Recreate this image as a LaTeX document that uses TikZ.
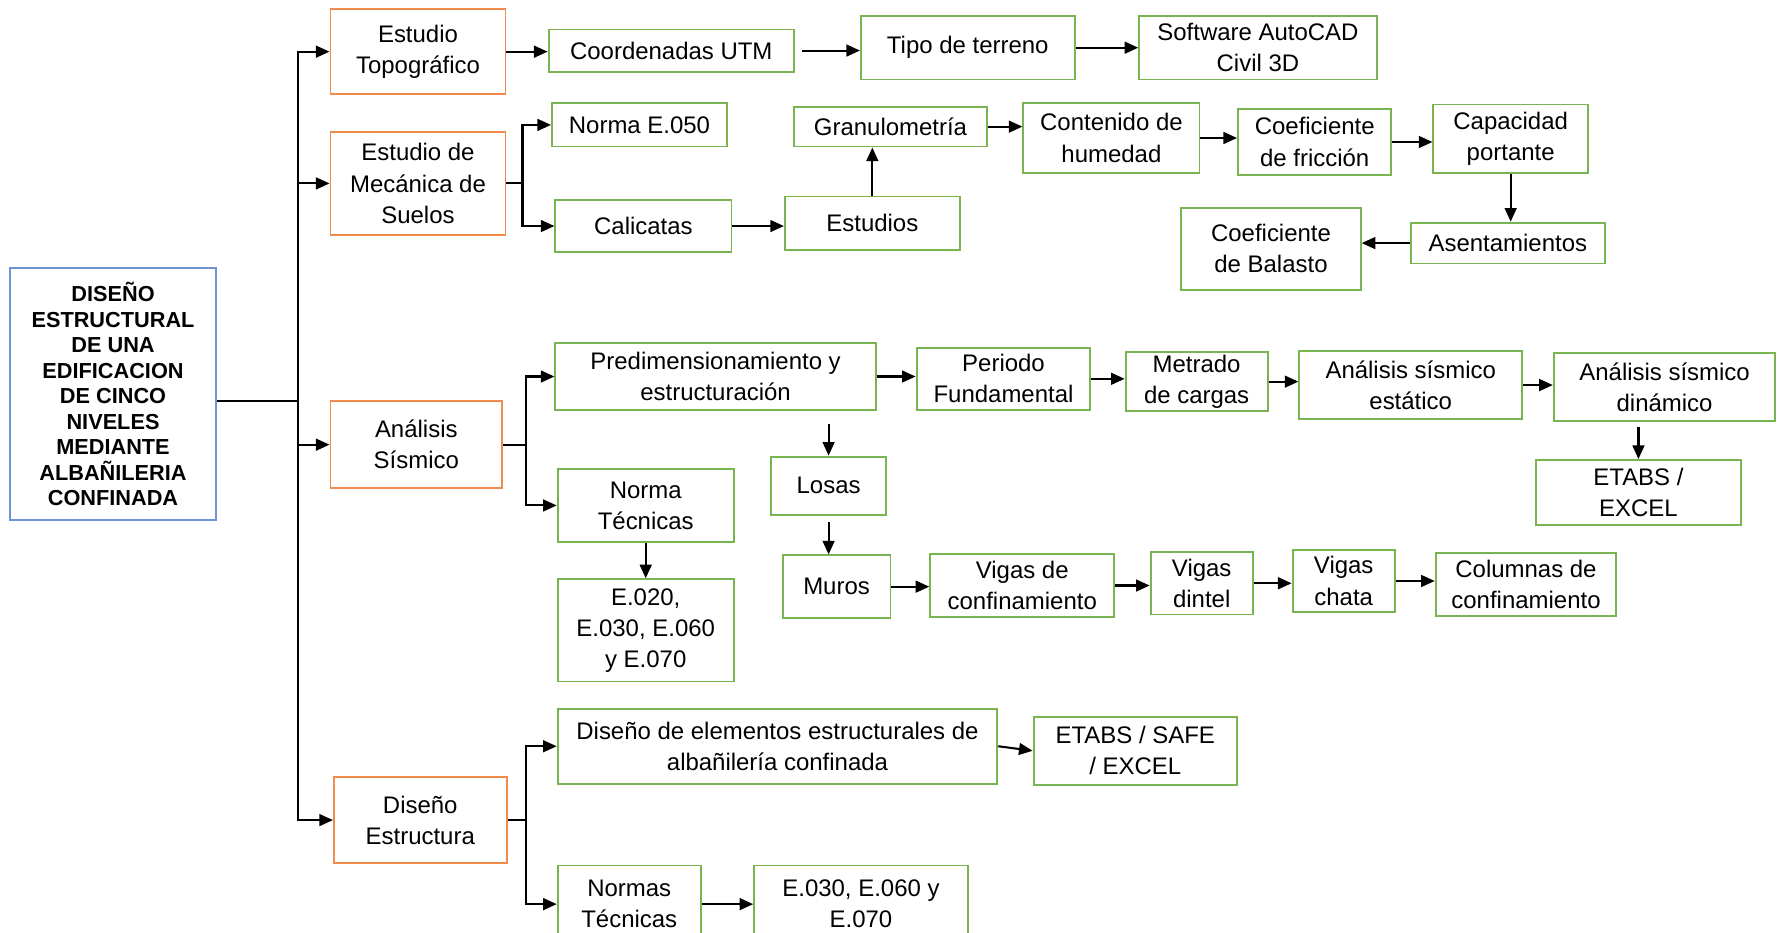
\documentclass[tikz,border=0pt]{standalone}
\usepackage{fontspec}
\setmainfont{Liberation Sans}
\usetikzlibrary{arrows.meta}
\definecolor{naranja}{RGB}{240,140,75}
\definecolor{verde}{RGB}{120,180,80}
\definecolor{azul}{RGB}{110,145,215}
\begin{document}
\begin{tikzpicture}[x=0.025cm,y=-0.025cm,
		caja/.style={draw=verde,line width=1.2pt,fill=white,align=center,inner sep=1pt,font=\fontsize{15}{19.5}\selectfont},
		tema/.style={caja,draw=naranja},
		linea/.style={line width=1.3pt},
		flecha/.style={linea,-{Triangle[length=0.3cm,width=0.26cm]}}]
			\useasboundingbox (0,0) rectangle (1568,821);
			\clip (0,0) rectangle (1568,821);
			\node[caja,draw=azul,minimum width=4.525cm,minimum height=5.55cm,font=\bfseries\fontsize{13.6}{16}\selectfont] (main) at (99.5,347) {DISEÑO\\ESTRUCTURAL\\DE UNA\\EDIFICACION\\DE CINCO\\NIVELES\\MEDIANTE\\ALBAÑILERIA\\CONFINADA};
			\node[tema,minimum width=3.85cm,minimum height=1.875cm] (topo) at (368,45.5) {Estudio\\Topográfico};
			\node[tema,minimum width=3.85cm,minimum height=2.275cm] (mec) at (368,161.5) {Estudio de\\Mecánica de\\Suelos};
			\node[tema,minimum width=3.775cm,minimum height=1.925cm] (ana) at (366.5,391.5) {Análisis\\Sísmico};
			\node[tema,minimum width=3.8cm,minimum height=1.9cm] (dis) at (370,722) {Diseño\\Estructura};
			\node[caja,minimum width=5.4cm,minimum height=0.925cm] (utm) at (591,44.5) {Coordenadas UTM};
			\node[caja,minimum width=4.7cm,minimum height=1.4cm] (terreno) at (852,42) {Tipo de terreno};
			\node[caja,minimum width=5.225cm,minimum height=1.4cm] (autocad) at (1107.5,42) {Software AutoCAD\\Civil 3D};
			\node[caja,minimum width=3.85cm,minimum height=0.95cm] (n050) at (563,110) {Norma E.050};
			\node[caja,minimum width=3.875cm,minimum height=1.15cm] (calicatas) at (566.5,199) {Calicatas};
			\node[caja,minimum width=3.85cm,minimum height=1.175cm] (estudios) at (768,196.5) {Estudios};
			\node[caja,minimum width=4.25cm,minimum height=0.875cm] (granulo) at (784,111.5) {Granulometría};
			\node[caja,minimum width=3.875cm,minimum height=1.525cm] (humedad) at (978.5,121.5) {Contenido de\\humedad};
			\node[caja,minimum width=3.375cm,minimum height=1.45cm] (friccion) at (1157.5,125) {Coeficiente\\de fricción};
			\node[caja,minimum width=3.4cm,minimum height=1.5cm] (portante) at (1330,122) {Capacidad\\portante};
			\node[caja,minimum width=4.275cm,minimum height=0.9cm] (asent) at (1327.5,214) {Asentamientos};
			\node[caja,minimum width=3.95cm,minimum height=1.8cm] (balasto) at (1119,219) {Coeficiente\\de Balasto};
			\node[caja,minimum width=7.05cm,minimum height=1.475cm] (predim) at (630,331.5) {Predimensionamiento y\\estructuración};
			\node[caja,minimum width=3.875cm,minimum height=1.6cm] (normatec) at (568.5,445) {Norma\\Técnicas};
			\node[caja,minimum width=3.825cm,minimum height=1.375cm] (periodo) at (883.5,333.5) {Periodo\\Fundamental};
			\node[caja,minimum width=3.125cm,minimum height=1.3cm] (metrado) at (1053.5,336) {Metrado\\de cargas};
			\node[caja,minimum width=4.9cm,minimum height=1.5cm] (estatico) at (1242,339) {Análisis sísmico\\estático};
			\node[caja,minimum width=4.875cm,minimum height=1.5cm] (dinamico) at (1465.5,341) {Análisis sísmico\\dinámico};
			\node[caja,minimum width=4.525cm,minimum height=1.425cm] (etabs) at (1442.5,433.5) {ETABS /\\EXCEL};
			\node[caja,minimum width=2.525cm,minimum height=1.275cm] (losas) at (729.5,427.5) {Losas};
			\node[caja,minimum width=2.375cm,minimum height=1.375cm] (muros) at (736.5,516.5) {Muros};
			\node[caja,minimum width=3.875cm,minimum height=2.25cm] (normas) at (568.5,555) {E.020,\\E.030, E.060\\y E.070};
			\node[caja,minimum width=4.05cm,minimum height=1.375cm] (vconf) at (900,515.5) {Vigas de\\confinamiento};
			\node[caja,minimum width=2.25cm,minimum height=1.375cm] (vdintel) at (1058,513.5) {Vigas\\dintel};
			\node[caja,minimum width=2.25cm,minimum height=1.375cm] (vchata) at (1183,511.5) {Vigas\\chata};
			\node[caja,minimum width=3.975cm,minimum height=1.375cm] (columnas) at (1343.5,514.5) {Columnas de\\confinamiento};
			\node[caja,minimum width=9.675cm,minimum height=1.65cm] (diselem) at (684.5,657) {Diseño de elementos estructurales de\\albañilería confinada};
			\node[caja,minimum width=4.475cm,minimum height=1.5cm] (safe) at (999.5,661) {ETABS / SAFE\\/ EXCEL};
			\node[caja,minimum width=3.15cm,minimum height=1.7cm] (normastec) at (554,796) {Normas\\Técnicas};
			\node[caja,minimum width=4.7cm,minimum height=1.7cm] (e030) at (758,796) {E.030, E.060 y\\E.070};
			\coordinate (tronco) at (262,353);
			\coordinate (bmec) at (460,155);
			\coordinate (bana) at (463,390);
			\coordinate (bdis) at (463,722);
			\draw[linea] (main.east |- tronco) -- (tronco);
			\draw[flecha] (tronco) |- (topo.west);
			\draw[flecha] (tronco) |- (mec.west);
			\draw[flecha] (tronco) |- (ana.west);
			\draw[flecha] (tronco) |- (dis.west);
			\draw[flecha] (topo.east) -- (topo.east -| utm.west);
			\draw[flecha,shorten <=0.15cm] (utm.east) -- (utm.east -| terreno.west);
			\draw[flecha] (terreno.east) -- (terreno.east -| autocad.west);
			\draw[linea] (mec.east) -- (mec.east -| bmec);
			\draw[flecha] (mec.east -| bmec) |- (n050.west);
			\draw[flecha] (mec.east -| bmec) |- (calicatas.west);
			\draw[flecha] (calicatas.east) -- (calicatas.east -| estudios.west);
			\draw[flecha] (estudios.north) -- (estudios.north |- granulo.south);
			\draw[flecha] (granulo.east) -- (granulo.east -| humedad.west);
			\draw[flecha] (humedad.east) -- (humedad.east -| friccion.west);
			\draw[flecha] (friccion.east) -- (friccion.east -| portante.west);
			\draw[flecha] (portante.south) -- (portante.south |- asent.north);
			\draw[flecha] (asent.west) -- (asent.west -| balasto.east);
			\draw[linea] (ana.east) -- (ana.east -| bana);
			\draw[flecha] (ana.east -| bana) |- (predim.west);
			\draw[flecha] (ana.east -| bana) |- (normatec.west);
			\draw[flecha] (predim.east) -- (predim.east -| periodo.west);
			\draw[flecha] (periodo.east) -- (periodo.east -| metrado.west);
			\draw[flecha] (metrado.east) -- (metrado.east -| estatico.west);
			\draw[flecha] (estatico.east) -- (estatico.east -| dinamico.west);
			\draw[flecha,shorten <=0.1cm] (etabs.north |- dinamico.south) -- (etabs.north);
			\draw[flecha,shorten <=0.275cm] (losas.north |- predim.south) -- (losas.north);
			\draw[flecha,shorten <=0.15cm] (losas.south) -- (losas.south |- muros.north);
			\draw[flecha] (normatec.south) -- (normatec.south |- normas.north);
			\draw[flecha] (muros.east) -- (muros.east -| vconf.west);
			\draw[flecha] (vconf.east) -- (vconf.east -| vdintel.west);
			\draw[flecha] (vdintel.east) -- (vdintel.east -| vchata.west);
			\draw[flecha] (vchata.east) -- (vchata.east -| columnas.west);
			\draw[linea] (dis.east) -- (dis.east -| bdis);
			\draw[flecha] (dis.east -| bdis) |- (diselem.west);
			\draw[flecha] (dis.east -| bdis) |- (normastec.west);
			\draw[flecha] (diselem.east) -- (safe.west);
			\draw[flecha] (normastec.east) -- (normastec.east -| e030.west);
		\end{tikzpicture}
\end{document}
